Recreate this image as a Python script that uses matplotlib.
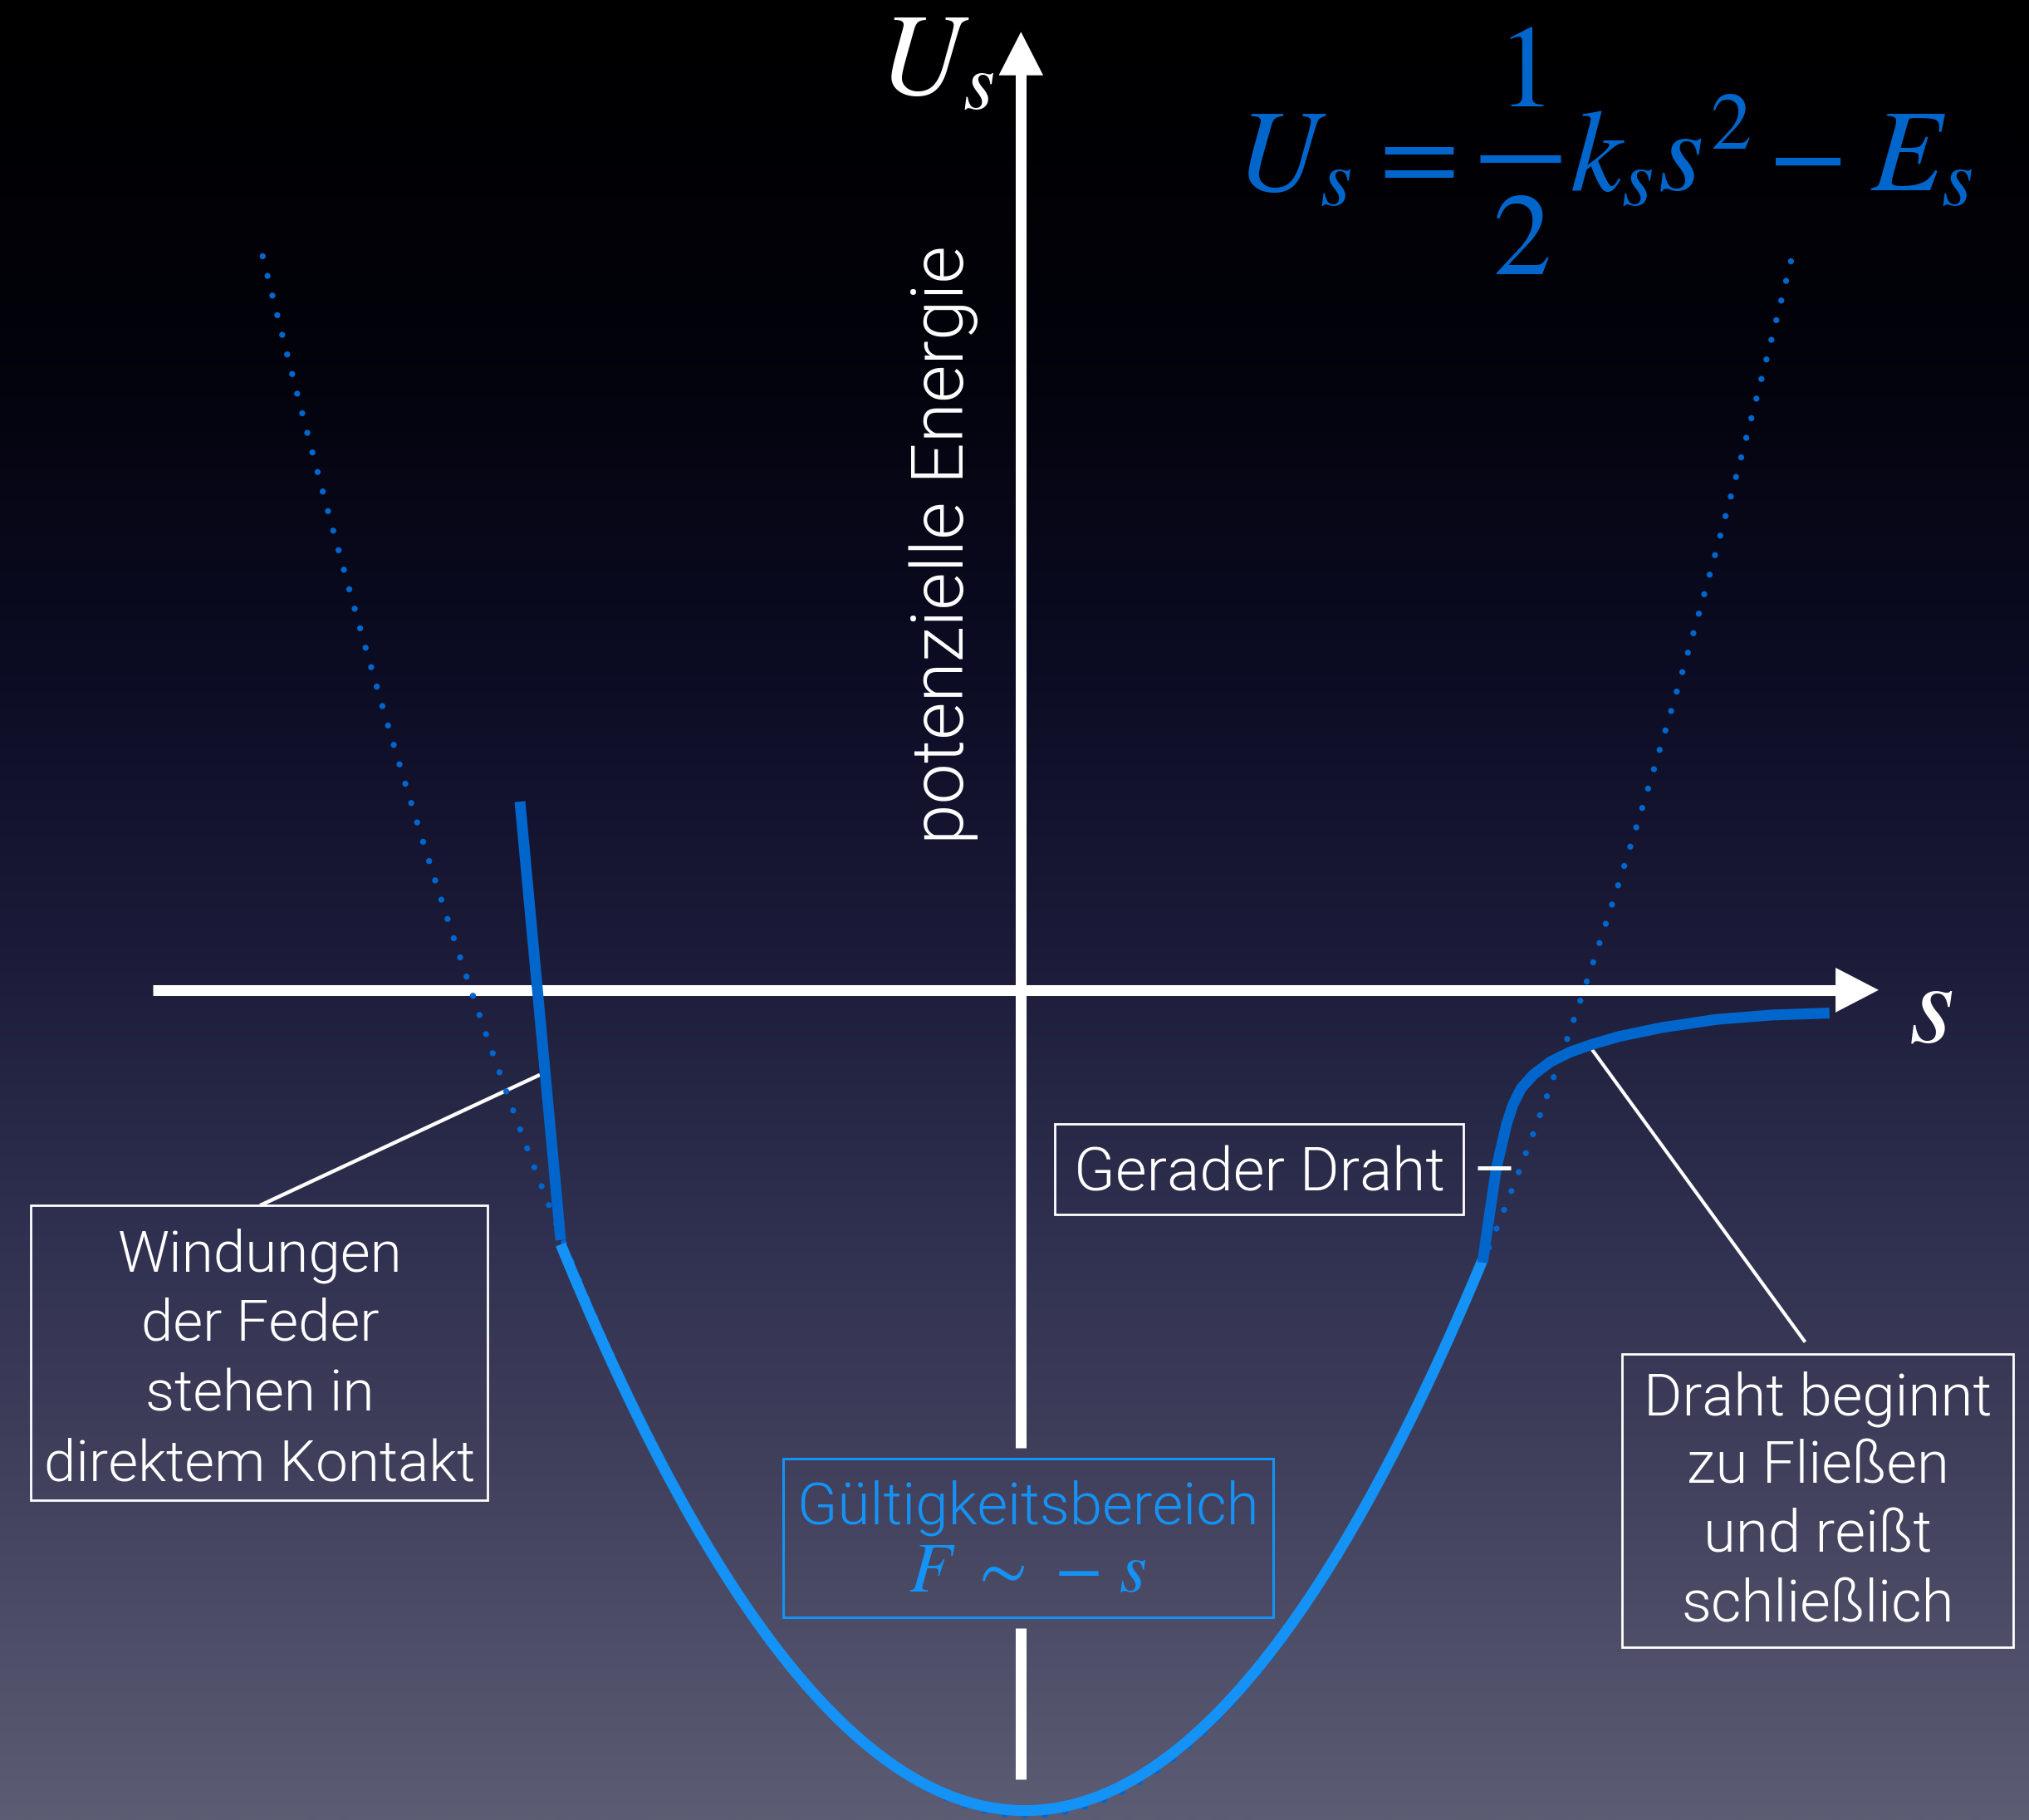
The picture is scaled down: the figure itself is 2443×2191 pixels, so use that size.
import numpy as np
import matplotlib
matplotlib.use("Agg")
import matplotlib.pyplot as plt
from matplotlib import font_manager as fm
from matplotlib.patches import Rectangle, Polygon

# ------------------------------------------------------------------
# Values (units of s and U_s, schematic)
# ------------------------------------------------------------------
# Harmonic model U_s = 1/2 k_s s^2 - E_s (dotted, full range)
k_model, E_model, s0_model = 0.690, 6.38, 0.05
model_range = [-5.86, 5.96]
# Range of validity (light blue solid)
k_valid, E_valid, s0_valid = 0.680, 6.34, 0.03
valid_range = [-3.557, 3.567]
# Coils in direct contact (dark straight segment)
coil_s = [-3.872, -3.557]
coil_U = [1.456, -1.933]
# Straight wire / yielding / breaking (dark curve)
yield_s = [3.567, 3.620, 3.674, 3.753, 3.802, 3.866, 3.963, 4.091, 4.241,
           4.412, 4.626, 4.947, 5.375, 5.802, 6.248]
yield_U = [-2.106, -1.742, -1.374, -1.036, -0.886, -0.758, -0.651, -0.555,
           -0.480, -0.420, -0.358, -0.291, -0.227, -0.193, -0.178]

left_box_lines = ["Windungen", "der Feder", "stehen in", "direktem Kontakt"]
right_box_lines = ["Draht beginnt", "zu Fließen", "und reißt", "schließlich"]
straight_label = "Gerader Draht"
valid_label = "Gültigkeitsbereich"
valid_formula = r"$F\ {\sim}\ {-}\ s$"
# model formula  U_s = (1/2) k_s s^2 - E_s, typeset piece by piece
formula_lhs = r"$U_s$"
formula_eq = r"$=$"
formula_num = r"$1$"
formula_den = r"$2$"
formula_mid = r"$k_s s^2$"
formula_minus = r"$-$"
formula_rhs = r"$E_s$"
y_label_math = r"$U_s$"
x_label_math = r"$s$"
y_axis_text = "potenzielle Energie"

# ------------------------------------------------------------------
LIGHT = "#1592F5"
DARK = "#0066CC"
XMIN, XMAX, YMIN, YMAX = -7.890, 7.790, -6.413, 7.650

plt.rcParams["mathtext.fontset"] = "stix"


def pick_light_family():
    prefs = ["Roboto", "Lato", "Open Sans", "Inter", "Noto Sans"]
    weights = {}
    for f in fm.fontManager.ttflist:
        weights.setdefault(f.name, set()).add(f.weight)
    for p in prefs:
        for w in weights.get(p, set()):
            if (isinstance(w, (int, float)) and w <= 300) or \
               (isinstance(w, str) and w.lower() in ("light", "extra light", "ultralight", "thin")):
                return p
    for p in prefs:
        if p in weights:
            return p
    return "DejaVu Sans"


FAM = pick_light_family()

fig = plt.figure(figsize=(24.43, 21.91), dpi=100)
ax = fig.add_axes([0, 0, 1, 1])

# background gradient
H = 600
t = np.linspace(0, 1, H)
stops = [0.0, 0.18, 0.37, 0.52, 0.68, 0.82, 1.0]
cols = np.array([(0, 0, 0), (2, 2, 10), (12, 12, 36), (27, 27, 57),
                 (48, 48, 80), (66, 66, 94), (92, 92, 116)]) / 255.0
grad = np.stack([np.interp(t, stops, cols[:, i]) for i in range(3)], axis=1)[:, None, :]
ax.imshow(grad, extent=[XMIN, XMAX, YMIN, YMAX], origin="upper",
          aspect="auto", interpolation="bilinear", zorder=0)
ax.set_xlim(XMIN, XMAX)
ax.set_ylim(YMIN, YMAX)
ax.set_axis_off()

AX_LW = 9.4
# horizontal axis
ax.plot([-6.71, 6.31], [0, 0], color="white", lw=AX_LW, solid_capstyle="butt", zorder=2)
ax.add_patch(Polygon([[6.628, 0], [6.295, 0.173], [6.295, -0.173]], closed=True,
                     fc="white", ec="none", zorder=2))
# vertical axis (interrupted by the box)
ax.plot([0, 0], [7.08, -3.537], color="white", lw=AX_LW, solid_capstyle="butt", zorder=2)
ax.plot([0, 0], [-4.93, -6.10], color="white", lw=AX_LW, solid_capstyle="butt", zorder=2)
ax.add_patch(Polygon([[0, 7.404], [-0.172, 7.068], [0.172, 7.068]], closed=True,
                     fc="white", ec="none", zorder=2))

# connectors
ax.plot([-5.88, -3.718], [-1.664, -0.655], color="white", lw=3.2, zorder=2.5,
        solid_capstyle="butt")
ax.plot([4.412, 6.06], [-0.458, -2.72], color="white", lw=3.0, zorder=2.5,
        solid_capstyle="butt")

# dotted model parabola
s_m = np.linspace(model_range[0], model_range[1], 600)
U_m = 0.5 * k_model * (s_m - s0_model) ** 2 - E_model
ax.plot(s_m, U_m, color=DARK, lw=5.3, linestyle=(0, (0.01, 3.3)),
        dash_capstyle="round", zorder=3)

# valid range
s_v = np.linspace(valid_range[0], valid_range[1], 400)
U_v = 0.5 * k_valid * (s_v - s0_valid) ** 2 - E_valid
ax.plot(s_v, U_v, color=LIGHT, lw=9.4, solid_capstyle="butt", zorder=4)
# coils
ax.plot(coil_s, coil_U, color=DARK, lw=9.4, solid_capstyle="butt", zorder=4)
# yield curve
ax.plot(yield_s, yield_U, color=DARK, lw=9.4, solid_capstyle="butt",
        solid_joinstyle="round", zorder=4)

# tick next to "Gerader Draht"
ax.plot([3.530, 3.785], [-1.374, -1.374], color="white", lw=3.5, zorder=5,
        solid_capstyle="butt")

# boxes
ax.add_patch(Rectangle((-7.65, -3.94), 3.53, 2.276, fill=False, ec="white", lw=2, zorder=5))
ax.add_patch(Rectangle((4.645, -5.08), 3.02, 2.27, fill=False, ec="white", lw=2, zorder=5))
ax.add_patch(Rectangle((0.261, -1.732), 3.158, 0.696, fill=False, ec="white", lw=2, zorder=5))
ax.add_patch(Rectangle((-1.838, -4.85), 3.787, 1.23, fill=False, ec=LIGHT, lw=2.2, zorder=5))

txt_kw = dict(family=FAM, fontweight=300, zorder=6)

left_y = [-2.172, -2.707, -3.249, -3.792]
left_txt = [ax.text(-5.88, y, s, color="white", ha="center", va="baseline", fontsize=48, **txt_kw)
            for s, y in zip(left_box_lines, left_y)]
right_y = [-3.281, -3.813, -4.346, -4.879]
right_txt = [ax.text(6.16, y, s, color="white", ha="center", va="baseline", fontsize=48, **txt_kw)
             for s, y in zip(right_box_lines, right_y)]
ger_txt = ax.text(1.842, -1.549, straight_label, color="white", ha="center", va="baseline",
                  fontsize=48, **txt_kw)
val_txt = ax.text(0.056, -4.128, valid_label, color=LIGHT, ha="center", va="baseline",
                  fontsize=48, **txt_kw)
pot_txt = ax.text(-0.598, 3.44, y_axis_text, color="white", ha="center", va="center",
                  rotation=90, fontsize=55, **txt_kw)

ax.text(0.05, -4.652, valid_formula, color=LIGHT, ha="center", va="baseline",
        fontsize=61, zorder=6)

MATH_FS = 101
ax.text(-1.10, 6.923, y_label_math, color="white", ha="left", va="baseline",
        fontsize=MATH_FS, zorder=6)
ax.text(6.861, -0.40, x_label_math, color="white", ha="left", va="baseline",
        fontsize=MATH_FS, zorder=6)

# model formula pieces
f_kw = dict(color=DARK, fontsize=MATH_FS, zorder=6, va="baseline")
ax.text(1.660, 6.18, formula_lhs, ha="left", **f_kw)
ax.text(2.992, 6.18, formula_eq, ha="center", **f_kw)
ax.text(3.862, 6.828, formula_num, ha="center", **f_kw)
ax.text(3.862, 5.531, formula_den, ha="center", **f_kw)
ax.plot([3.547, 4.170], [6.424, 6.424], color=DARK, lw=6.5, solid_capstyle="butt", zorder=6)
ax.text(4.240, 6.18, formula_mid, ha="left", **f_kw)
ax.text(6.057, 6.18, formula_minus, ha="center", **f_kw)
ax.text(6.565, 6.18, formula_rhs, ha="left", **f_kw)

# fit font sizes to widths measured on the reference (pixels)
r = fig.canvas.get_renderer()


def fit(texts, target, use_height=False):
    ext = [tt.get_window_extent(r) for tt in texts]
    cur = max((e.height if use_height else e.width) for e in ext)
    fs = texts[0].get_fontsize() * target / cur
    for tt in texts:
        tt.set_fontsize(fs)
    return fs


fit(left_txt, 519)
fit(right_txt, 419)
fit([ger_txt], 447)
fit([val_txt], 556)
fit([pot_txt], 720, use_height=True)

fig.savefig("out.png", dpi=100)
